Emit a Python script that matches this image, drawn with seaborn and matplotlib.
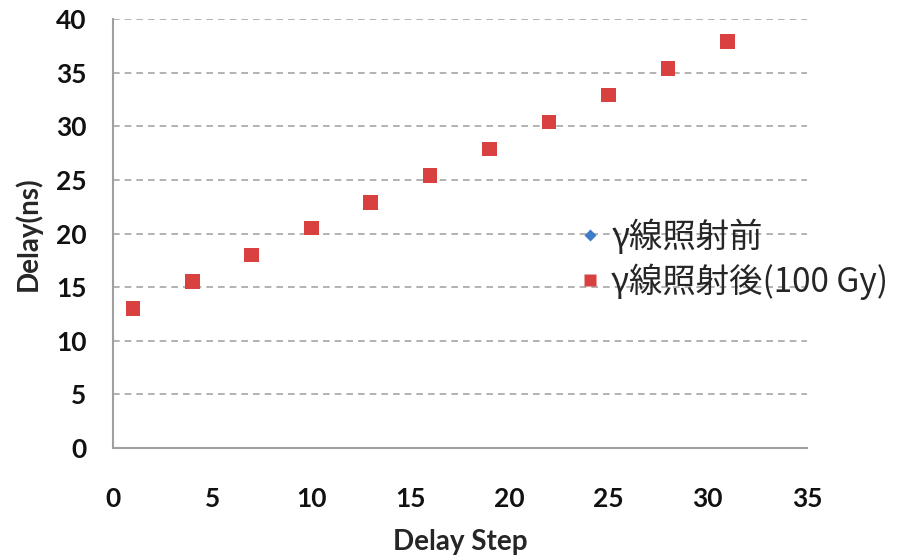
import matplotlib
matplotlib.use("Agg")
import matplotlib.pyplot as plt
import seaborn as sns
import pandas as pd

# Delay measurements per delay step, before and after 100 Gy gamma irradiation
delay_step = [1, 4, 7, 10, 13, 16, 19, 22, 25, 28, 31]
delay_before = [13.0, 15.5, 18.0, 20.5, 22.9, 25.4, 27.9, 30.4, 32.9, 35.4, 37.9]
delay_after = [13.0, 15.5, 18.0, 20.5, 22.9, 25.4, 27.9, 30.4, 32.9, 35.4, 37.9]
series_names = ["γ線照射前", "γ線照射後(100 Gy)"]
x_ticks = [0, 5, 10, 15, 20, 25, 30, 35]
y_ticks = [0, 5, 10, 15, 20, 25, 30, 35, 40]

df = pd.DataFrame({
    "step": delay_step * 2,
    "delay": delay_before + delay_after,
    "series": [series_names[0]] * len(delay_step) + [series_names[1]] * len(delay_step),
})

sns.set_style("white")
plt.rcParams["font.family"] = ["Lato", "DejaVu Sans"]

fig = plt.figure(figsize=(9.07, 5.60), dpi=100)
ax = fig.add_axes([0.1246, 0.2, 0.765, 0.766])

sns.scatterplot(
    data=df, x="step", y="delay", hue="series", style="series",
    size="series", sizes={series_names[0]: 50, series_names[1]: 110},
    markers={series_names[0]: "D", series_names[1]: "s"},
    palette={series_names[0]: "#3d7cc9", series_names[1]: "#d94140"},
    edgecolor="none", ax=ax, legend=True, zorder=3,
)

ax.set_xlim(0, 35)
ax.set_ylim(0, 40)
ax.set_xticks(x_ticks)
ax.set_yticks(y_ticks)
ax.yaxis.grid(True, linestyle=(0, (4, 3)), color="#a6a6a6", linewidth=1.2)
ax.xaxis.grid(False)
ax.set_axisbelow(True)

for side in ("top", "right"):
    ax.spines[side].set_visible(False)
for side in ("left", "bottom"):
    ax.spines[side].set_color("#a0a0a0")
    ax.spines[side].set_linewidth(1.5)

ax.tick_params(axis="x", direction="out", length=7, width=1.3, color="#a0a0a0",
               labelsize=19, pad=21)
ax.tick_params(axis="y", direction="out", length=7, width=1.3, color="#a0a0a0",
               labelsize=19, pad=12)
for lbl in ax.get_xticklabels() + ax.get_yticklabels():
    lbl.set_fontweight("bold")
    lbl.set_color("#111111")

ax.set_xlabel("Delay Step", fontsize=20, fontweight="bold", labelpad=13)
ax.set_ylabel("Delay(ns)", fontsize=20, fontweight="bold", labelpad=10)

handles, labels = ax.get_legend_handles_labels()
seen = {}
for h, l in zip(handles, labels):
    if l in series_names:
        seen.setdefault(l, h)
leg_handles = [seen[n] for n in series_names]
leg_handles[0].set_markersize(6)
leg_handles[1].set_markersize(8)
ax.legend(leg_handles, series_names, loc="upper left", bbox_to_anchor=(0.617, 0.632),
          bbox_transform=fig.transFigure, frameon=False,
          prop={"family": ["Noto Sans CJK JP", "DejaVu Sans"], "size": 24},
          handletextpad=0.1, labelspacing=0.25, borderaxespad=0, handlelength=1.05)

fig.savefig("out.png", dpi=100)
